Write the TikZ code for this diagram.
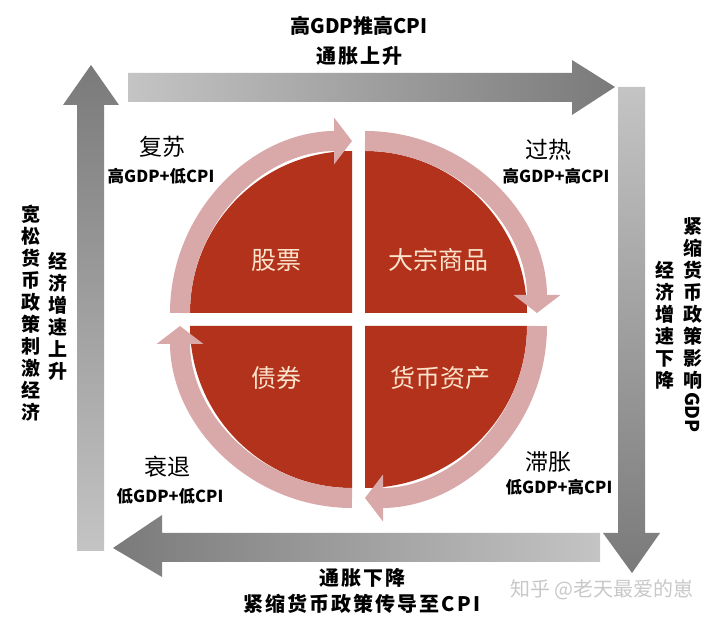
\documentclass[tikz,border=0pt]{standalone}
\usepackage{fontspec}
\usepackage{graphicx}
\newfontfamily\cjk{Noto Sans CJK SC}
\newfontfamily\cjkwide[LetterSpace=10]{Noto Sans CJK SC}
\usetikzlibrary{arrows.meta}

\definecolor{arrowlight}{HTML}{C4C4C4}
\definecolor{arrowmid}{HTML}{B6B6B6}
\definecolor{arrowdark}{HTML}{7A7A7A}
\definecolor{quadred}{HTML}{B3321B}
\definecolor{bandpink}{HTML}{D9A8A9}
\definecolor{cream}{HTML}{FBE3CC}
\definecolor{markgray}{HTML}{C8C8C8}

\begin{document}
\begin{tikzpicture}[x=1pt, y=1pt,
		quad/.style={fill=quadred},
		band/.style={draw=bandpink, line width=20pt, -{Triangle[length=18pt, width=46pt]}},
		asset/.style={text=cream, font=\cjk\fontsize{25}{25}\selectfont},
		phase/.style={font=\cjk\fontsize{23}{23}\selectfont},
		cond/.style={font=\cjk\bfseries\fontsize{16.5}{16.5}\selectfont},
		note/.style={font=\cjkwide\bfseries\fontsize{20}{20}\selectfont},
		column/.style={font=\cjk\bfseries\fontsize{19}{22}\selectfont, align=center, inner sep=0pt}]

		\useasboundingbox (0,0) rectangle (720,618);

		% big gray arrows
		\shade[left color=arrowlight, middle color=arrowmid, right color=arrowdark]
			(128,516) -- (572,516) -- (572,503) -- (615,531) -- (572,558) -- (572,545) -- (128,545) -- cycle;
		\shade[top color=arrowlight, middle color=arrowmid, bottom color=arrowdark]
			(618,531) -- (645,531) -- (645,85) -- (660,85) -- (632,45) -- (603,85) -- (618,85) -- cycle;
		\shade[right color=arrowlight, middle color=arrowmid, left color=arrowdark]
			(600,85) -- (162,85) -- (162,103) -- (113,70) -- (162,41) -- (162,56) -- (600,56) -- cycle;
		\shade[bottom color=arrowlight, middle color=arrowmid, top color=arrowdark]
			(77,67) -- (77,513) -- (63,513) -- (91,553) -- (119,513) -- (104,513) -- (104,67) -- cycle;

		% quadrants
		\coordinate (tl) at (352,305);
		\coordinate (tr) at (365,305);
		\coordinate (bl) at (352,292);
		\coordinate (br) at (365,292);

		\fill[quad] (tl) -- ++(180:162pt) arc[start angle=180, end angle=90, radius=162pt] -- cycle;
		\fill[quad] (tr) -- ++(90:162pt) arc[start angle=90, end angle=0, radius=162pt] -- cycle;
		\fill[quad] (br) -- ++(0:162pt) arc[start angle=0, end angle=-90, radius=162pt] -- cycle;
		\fill[quad] (bl) -- ++(270:162pt) arc[start angle=270, end angle=180, radius=162pt] -- cycle;

		% cycle arrows
		\draw[band] ([shift={(180:172pt)}]tl) arc[start angle=180, end angle=90, radius=172pt];
		\draw[band] ([shift={(90:172pt)}]tr) arc[start angle=90, end angle=0, radius=172pt];
		\draw[band] ([shift={(0:172pt)}]br) arc[start angle=0, end angle=-90, radius=172pt];
		\draw[band] ([shift={(270:172pt)}]bl) arc[start angle=270, end angle=180, radius=172pt];

		\node[asset] (stock) at (276,358) {股票};
		\node[asset] (commodity) at (438,358) {大宗商品};
		\node[asset] (bond) at (276,240) {债券};
		\node[asset] (cash) at (440,240) {货币资产};

		\node[phase] (recovery) at (162,471) {复苏};
		\node[cond] (recoverycond) at (161,442) {高GDP+低CPI};
		\node[phase] (overheat) at (548,468) {过热};
		\node[cond] (overheatcond) at (556,442) {高GDP+高CPI};
		\node[phase] (recession) at (167,151) {衰退};
		\node[cond] (recessioncond) at (170,122) {低GDP+低CPI};
		\node[phase] (stagflation) at (548,156) {滞胀};
		\node[cond] (stagflationcond) at (559,131) {低GDP+高CPI};

		\node[note, font=\cjk\bfseries\fontsize{20}{20}\selectfont] (riseup) at (359,592) {高GDP推高CPI};
		\node[note] (risedown) at (359,562) {通胀上升};
		\node[note] (fallup) at (362,40) {通胀下降};
		\node[note] (falldown) at (362,14) {紧缩货币政策传导至CPI};

		\node[column] (easeout) at (31,305) {宽\\松\\货\\币\\政\\策\\刺\\激\\经\\济};
		\node[column] (easein) at (58,302) {经\\济\\增\\速\\上\\升};
		\node[column] (tightout) at (693,293) {紧\\缩\\货\\币\\政\\策\\影\\响\\\raisebox{17pt}{\rotatebox{-90}{GDP}}};
		\node[column] (tightin) at (665,293) {经\\济\\增\\速\\下\\降};

		\node[text=markgray, font=\cjk\fontsize{20}{20}\selectfont] (mark) at (602,28) {知乎 @老天最爱的崽};
	\end{tikzpicture}
\end{document}
